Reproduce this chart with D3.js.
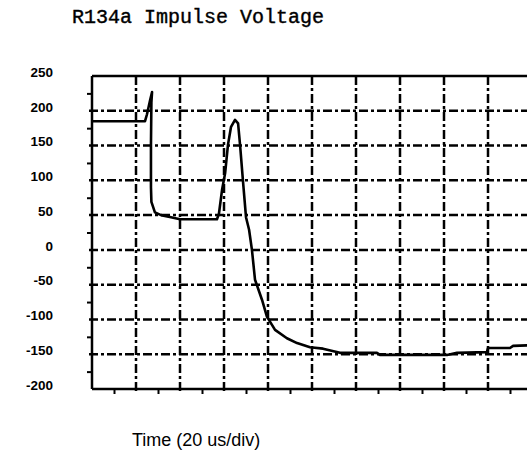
<!DOCTYPE html>
<head>
    <meta charset="utf-8">
    <title>R134a Impulse Voltage</title>
    <script src="https://d3js.org/d3.v7.min.js"></script>
    <style>
        body { margin: 0; background: #fff; }
        svg { display: block; }
    </style>
</head>
<body>
    <div id="container"></div>
    <script>
        //----------------------------DATA-----------------------------//
        var timeUs = [0, 24.1, 25.0, 26.4, 27.3, 27.0, 26.8, 26.8, 27.0, 28.6, 31.4, 35.9, 40, 56.8,
            57.7, 59.1, 60.5, 61.8, 63.2, 65, 66.4, 67.3, 68.6, 70, 71.4, 72.7, 74.1, 77.3, 79.5,
            83.2, 88.6, 93.2, 99.1, 105, 112.7, 129.5, 130.9, 161.4, 165.9, 179.5, 180, 190, 191.4, 200];
        var voltage = [185, 185, 195, 215, 227, 212, 150, 90, 69, 54, 50, 47, 44, 44,
            52, 86, 110, 151, 177, 187, 182, 151, 100, 47, 29, 0, -43, -72, -96,
            -115, -127, -134, -140, -142, -148, -148, -151, -151, -148, -147, -141, -141, -138, -137];
        var yTicks = [250, 200, 150, 100, 50, 0, -50, -100, -150, -200];
        var titleText = "R134a Impulse Voltage";
        var xLabel = "Time (20 us/div)";

        //---------------------------SETUP-----------------------------//
        var W = 527, H = 453;
        var margin = { top: 76, left: 92, bottom: 64 };
        var plotH = H - margin.top - margin.bottom;

        var xScale = d3.scaleLinear().domain([0, 200]).range([margin.left, margin.left + 440]);
        var yScale = d3.scaleLinear().domain([-200, 250]).range([margin.top + plotH, margin.top]);

        var svg = d3.select("#container").append("svg")
            .attr("width", W).attr("height", H);

        //---------------------------GRID------------------------------//
        var grid = svg.append("g")
            .attr("stroke", "#000")
            .attr("stroke-width", 2.5)
            .attr("stroke-dasharray", "9,3,3,3");

        grid.selectAll(".hg")
            .data(yTicks.filter(function (d) { return d > -200 && d < 250; }))
            .enter().append("line")
            .attr("x1", xScale(0) - 3).attr("x2", W)
            .attr("y1", function (d) { return yScale(d); })
            .attr("y2", function (d) { return yScale(d); });

        grid.selectAll(".vg")
            .data(d3.range(20, 200, 20))
            .enter().append("line")
            .attr("x1", function (d) { return xScale(d); })
            .attr("x2", function (d) { return xScale(d); })
            .attr("y1", yScale(250))
            .attr("y2", yScale(-200) + 5);

        //---------------------------AXES------------------------------//
        var yAxis = d3.axisLeft(yScale)
            .tickValues(d3.range(-175, 250, 50))
            .tickSize(5)
            .tickFormat("");
        var xAxis = d3.axisBottom(xScale)
            .tickValues(d3.range(10, 200, 20))
            .tickSize(5)
            .tickFormat("");

        var ya = svg.append("g")
            .attr("transform", "translate(" + xScale(0) + ",0)")
            .call(yAxis);
        var xa = svg.append("g")
            .attr("transform", "translate(0," + yScale(-200) + ")")
            .call(xAxis);
        [ya, xa].forEach(function (a) {
            a.select(".domain").remove();
            a.selectAll("line").attr("stroke", "#000").attr("stroke-width", 2);
        });

        // frame: left, top, bottom
        var frame = svg.append("g").attr("stroke", "#000").attr("stroke-width", 2.5);
        frame.append("line")
            .attr("x1", xScale(0)).attr("x2", xScale(0))
            .attr("y1", yScale(250)).attr("y2", yScale(-200));
        frame.append("line")
            .attr("x1", xScale(0)).attr("x2", W)
            .attr("y1", yScale(250)).attr("y2", yScale(250));
        frame.append("line")
            .attr("x1", xScale(0)).attr("x2", W)
            .attr("y1", yScale(-200)).attr("y2", yScale(-200));

        // y labels
        svg.selectAll(".ylab")
            .data(yTicks)
            .enter().append("text")
            .attr("x", 53)
            .attr("y", function (d) { return yScale(d) - 4; })
            .attr("dy", "0.35em")
            .attr("text-anchor", "end")
            .style("font-family", "Liberation Sans, Arial, sans-serif")
            .style("font-size", "13.5px")
            .style("font-weight", "bold")
            .text(function (d) { return d; });

        //---------------------------TRACE-----------------------------//
        var pts = timeUs.map(function (t, i) { return { t: t, v: voltage[i] }; });
        var line = d3.line()
            .x(function (d) { return xScale(d.t); })
            .y(function (d) { return yScale(d.v); });

        svg.append("path")
            .datum(pts)
            .attr("d", line)
            .attr("fill", "none")
            .attr("stroke", "#000")
            .attr("stroke-width", 2.6)
            .attr("stroke-linejoin", "round");

        //---------------------------TEXT------------------------------//
        svg.append("text")
            .attr("x", 72).attr("y", 23)
            .style("font-family", "Liberation Mono, Courier New, monospace")
            .style("font-size", "20px")
            .style("stroke", "#000")
            .style("stroke-width", 0.4)
            .text(titleText);

        svg.append("text")
            .attr("x", 132).attr("y", 446)
            .style("font-family", "Liberation Sans, Arial, sans-serif")
            .style("font-size", "18px")
            .text(xLabel);
    </script>
</body>
